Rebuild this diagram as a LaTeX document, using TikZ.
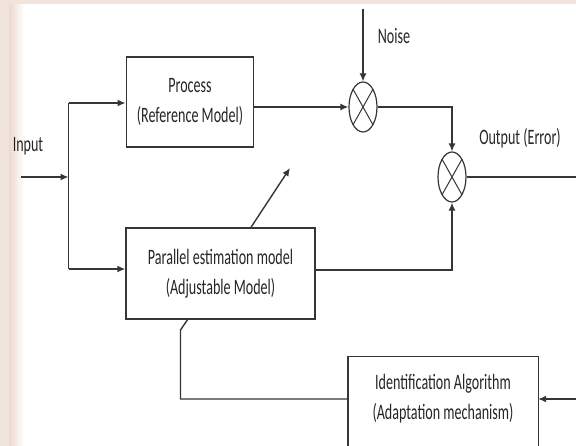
\documentclass[tikz,border=0pt]{standalone}
\usepackage{fontspec}
\setmainfont{Carlito}[FakeStretch=0.64]
\usetikzlibrary{arrows.meta,shapes.geometric,calc}
\definecolor{ln}{HTML}{363636}
\definecolor{tx}{HTML}{262626}
\definecolor{bgc}{HTML}{F1E4DC}
\definecolor{pinkc}{HTML}{EFD8CF}
\begin{document}
\begin{tikzpicture}[x=1pt,y=-1pt,
  line/.style={draw=ln, line width=1.4pt},
  arr/.style={line, -{Latex[length=8pt,width=7pt]}},
  txt/.style={text=tx, font=\fontsize{22}{30}\selectfont, align=center, inner sep=0pt},
  blk/.style={draw=ln, line width=1.4pt, rectangle, inner sep=0pt, txt},
  sum/.style={draw=ln, line width=1.2pt, ellipse, minimum width=28pt, minimum height=50pt, inner sep=0pt},
  xline/.style={draw=ln, line width=1pt}]
\path[use as bounding box] (0,0) rectangle (576,446);
\clip (0,0) rectangle (576,446);
\fill[bgc] (0,0) rectangle (576,446);
\fill[white] (9,4.5) rectangle (576,446);
\shade[left color=pinkc, right color=white] (9,4.5) rectangle (24,446);

% blocks
\node[blk, minimum width=127.5pt, minimum height=90pt] (P) at (190,102) {Process\\(Reference Model)};
\node[blk, minimum width=189pt, minimum height=91pt] (A) at (220.5,273.5) {Parallel estimation model\\(Adjustable Model)};
\node[txt, minimum width=190pt, minimum height=84pt] (I) at (443,399) {Identification Algorithm\\(Adaptation mechanism)};
\draw[line] ([yshift=-20pt]I.south west) -- (I.north west) -- (I.north east) -- ([yshift=-20pt]I.south east);

% summing junctions
\node[sum] (c1) at (363,107) {};
\node[sum] (c2) at (452,177) {};
\draw[xline] ($(c1)+(-9.9,-17.7)$) -- ($(c1)+(9.9,17.7)$);
\draw[xline] ($(c1)+(9.9,-17.7)$) -- ($(c1)+(-9.9,17.7)$);
\draw[xline] ($(c2)+(-9.9,-17.7)$) -- ($(c2)+(9.9,17.7)$);
\draw[xline] ($(c2)+(9.9,-17.7)$) -- ($(c2)+(-9.9,17.7)$);

% labels
\node[txt] (noise) at (394,36) {Noise};
\node[txt] (out) at (520,138) {Output (Error)};
\node[txt] (inp) at (28,146) {Input};

% coordinates
\coordinate (ns) at (363,9);
\coordinate (is) at (21,177);
\coordinate (j) at (68.5,177);
\coordinate (jt) at (68.5,103);
\coordinate (jb) at (68.5,269);
\coordinate (oe) at (577,177);
\coordinate (ie) at (577,399);
\coordinate (dt) at (290,168);
\coordinate (fb) at (180.5,330);

% connectors
\draw[arr] (ns) -- (c1.north);
\draw[arr] (P.east |- c1) -- (c1.west);
\draw[arr] (c1.east) -| (c2.north);
\draw[line] (c2.east) -- (oe);
\draw[arr] (is) -- (j);
\draw[line] (jt) -- (jb);
\draw[arr] (jt) -- (P.west |- jt);
\draw[arr] (jb) -- (A.west |- jb);
\draw[arr] ([yshift=3.5pt]A.east) -| (c2.south);
\draw[arr] ([xshift=30.5pt]A.north) -- (dt);
\draw[line] (I.west) -| (fb) -- ([xshift=-33pt]A.south);
\draw[arr] (ie) -- (I.east);
\end{tikzpicture}
\end{document}
